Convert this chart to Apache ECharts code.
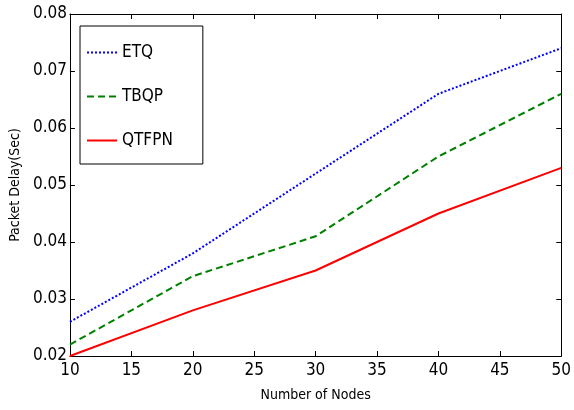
<!DOCTYPE html>
<html><head><meta charset="utf-8">
<script src="https://cdn.jsdelivr.net/npm/echarts@6/dist/echarts.min.js"></script>
<style>html,body{margin:0;padding:0;background:#fff}#c{width:574px;height:410px}</style>
</head><body><div id="c"></div>
<script>
var nodes = [10, 20, 30, 40, 50];
var etq = [0.026, 0.038, 0.052, 0.066, 0.074];
var tbqp = [0.022, 0.034, 0.041, 0.055, 0.066];
var qtfpn = [0.020, 0.028, 0.035, 0.045, 0.053];
var seriesNames = ['ETQ', 'TBQP', 'QTFPN'];

var FONT = '"DejaVu Sans Condensed", "Liberation Sans Narrow", sans-serif';
function pairs(v){ return nodes.map(function(n,i){ return [n, v[i]]; }); }
var chart = echarts.init(document.getElementById('c'));
var axBase = {
  axisLine:{show:true, onZero:false, lineStyle:{color:'#000', width:1}},
  axisTick:{show:true, inside:true, length:5, lineStyle:{color:'#000'}},
  splitLine:{show:false}
};
chart.setOption({
  animation:false,
  backgroundColor:'#fff',
  grid:{left:64, top:14, right:11, bottom:54, containLabel:false},
  legend:{
    orient:'vertical', left:80, top:26,
    data:seriesNames,
    itemWidth:30, itemHeight:14, itemGap:27,
    padding:[18,30,15,6],
    borderColor:'#000', borderWidth:1, backgroundColor:'#fff',
    itemStyle:{opacity:0},
    textStyle:{fontFamily:FONT, fontSize:17, color:'#000'}
  },
  xAxis:[
    Object.assign({type:'value', min:10, max:50, interval:5, position:'bottom',
      name:'Number of Nodes', nameLocation:'middle', nameGap:32,
      nameTextStyle:{fontFamily:FONT, fontSize:14, color:'#000'},
      axisLabel:{fontFamily:FONT, fontSize:17, color:'#000', margin:6}}, axBase),
    Object.assign({type:'value', min:10, max:50, interval:5, position:'top',
      axisLabel:{show:false}}, axBase)
  ],
  yAxis:[
    Object.assign({type:'value', min:0.02, max:0.08, interval:0.01, position:'left',
      name:'Packet Delay(Sec)', nameLocation:'middle', nameGap:46,
      nameTextStyle:{fontFamily:FONT, fontSize:14, color:'#000'},
      axisLabel:{fontFamily:FONT, fontSize:17, color:'#000', margin:3,
        formatter:function(v){return v.toFixed(2);}}}, axBase),
    Object.assign({type:'value', min:0.02, max:0.08, interval:0.01, position:'right',
      axisLabel:{show:false}}, axBase)
  ],
  series:[
    {name:'ETQ', type:'line', data:pairs(etq), symbol:'none', color:'#0000ff',
      lineStyle:{color:'#0000ff', width:2, type:[2,2]}},
    {name:'TBQP', type:'line', data:pairs(tbqp), symbol:'none', color:'#008000',
      lineStyle:{color:'#008000', width:2, type:[7,4]}},
    {name:'QTFPN', type:'line', data:pairs(qtfpn), symbol:'none', color:'#ff0000',
      lineStyle:{color:'#ff0000', width:2, type:'solid'}}
  ]
});
</script></body></html>
